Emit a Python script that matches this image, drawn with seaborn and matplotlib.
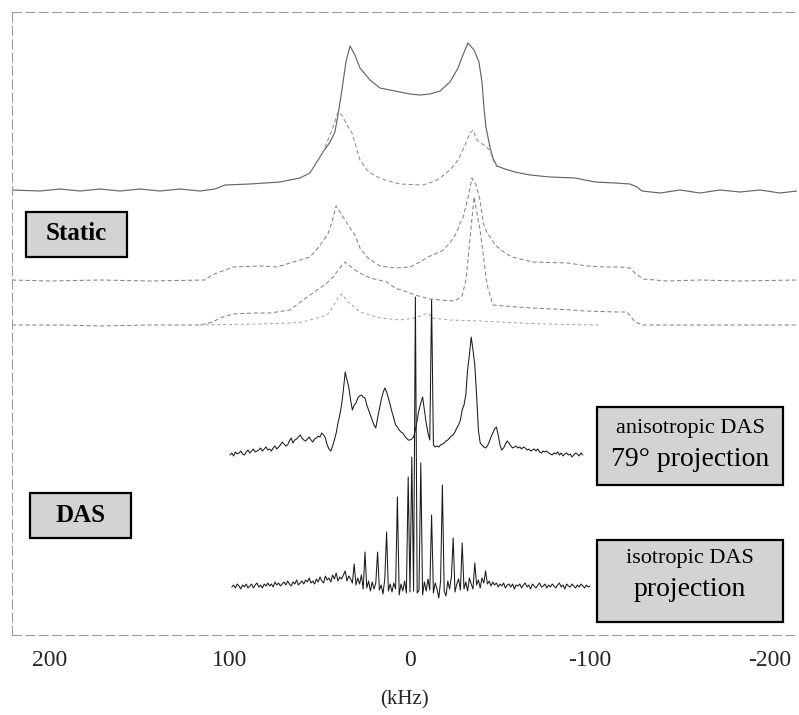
import numpy as np
import pandas as pd
import matplotlib
matplotlib.use("Agg")
import matplotlib.pyplot as plt
import seaborn as sns
from matplotlib.patches import Rectangle

# ---------------- data (frequency in kHz, intensity in arbitrary units) ----------------
# Static spectrum 1 (top trace)
static1_khz = [221.1, 205.6, 194.4, 183.3, 172.2, 161.1, 150, 138.9, 127.8, 116.7, 108.3, 102.8,
               88.9, 80.6, 72.2, 66.7, 61.1, 55.6, 52.8, 48.3, 44.4, 41.7, 40, 37.8, 35.6, 33.3,
               30.6, 27.8, 22.2, 16.7, 11.1, 5.6, 0, -5.6, -11.1, -16.7, -22.2, -26.7, -29.4, -32.2,
               -35.6, -38.3, -40, -41.1, -42.2, -44.4, -46.1, -48.3, -52.8, -58.3, -66.7, -77.8,
               -91.7, -102.8, -113.9, -122.2, -126.1, -128.9, -138.9, -150, -161.1, -172.2, -183.3,
               -194.4, -205.6, -215]
static1_int = [0, -1, 1, -1, 1, -1, 1, -1, 1, -1, 1, 5,
               6, 7, 8, 10, 12, 17, 25, 38, 48, 58, 75, 100, 128, 144,
               135, 122, 110, 102, 100, 98, 96, 95, 96, 99, 108, 122, 135, 147,
               140, 128, 108, 82, 63, 43, 32, 24, 21, 18, 15, 13,
               12, 8, 7, 6, 3, -1, -3, 0, -3, 0, -2,
               0, -3, -1]

# Static spectrum 1b (inner trace overlaid on the top one)
static1b_khz = [61.1, 55.6, 48.3, 43.3, 40, 37.8, 35, 32.2, 27.8, 23.9, 19.4, 13.9, 5.6, -7.2,
                -13.9, -16.7, -22.2, -26.7, -30.6, -33.3, -35, -37.2, -41.7, -44.4, -46.1, -48.3]
static1b_int = [12, 17, 38, 60, 78, 75, 65, 57, 30, 20, 14, 10, 6, 5,
                9, 12, 20, 30, 45, 57, 60, 50, 44, 40, 30, 23]

# Static spectrum 2
static2_khz = [221.1, 200, 172.2, 144.4, 113.9, 110, 105.6, 98.3, 83.3, 73.9, 61.1, 55.6, 51.1,
               47.2, 45.6, 43.3, 41.1, 37.8, 34.4, 30.6, 27.8, 23.3, 16.7, 8.3, 0, -5.6, -10, -15,
               -17.8, -21.1, -23.3, -26.1, -27.8, -29.4, -32.2, -34.4, -36.7, -38.9, -40.6, -42.8,
               -45, -47.2, -52.8, -56.7, -68.3, -87.8, -98.3, -108.3, -116.7, -122.2, -125, -129.4,
               -142.8, -161.1, -183.3, -215]
static2_int = [0, -1, 0, -1, 0, 5, 8, 13, 14, 13, 20, 23, 32,
               42, 46, 58, 74, 65, 55, 45, 32, 22, 14, 12, 13, 18, 23, 27,
               29, 35, 40, 48, 57, 62, 82, 102, 95, 80, 58, 47,
               42, 35, 27, 23, 18, 17, 14, 13, 13, 12, 7, 1,
               -1, 0, -1, 0]

# Static spectrum 3
static3_khz = [221.1, 194.4, 172.2, 144.4, 116.7, 109.4, 105.6, 98.3, 87.2, 77.8, 66.7, 59.4,
               53.9, 46.1, 42.8, 38.9, 36.1, 33.3, 28.9, 22.2, 12.8, 8.3, 0, -2.8, -11.1, -16.7,
               -25, -28.9, -31.1, -33.3, -35.6, -37.2, -38.9, -40.6, -42.2, -43.3, -46.1, -59.4,
               -68.3, -79.4, -90.6, -97.2, -115, -120.6, -125, -129.4, -161.1, -215]
static3_int = [0, 0, -1, 0, 0, 3, 7, 11, 12, 12, 15, 25,
               32, 42, 48, 57, 63, 59, 53, 47, 43, 37, 32, 30, 26, 25,
               24, 29, 45, 85, 128, 112, 95, 72, 48, 37, 20, 18,
               17, 16, 15, 14, 13, 13, 3, 0, 0, 0]

# Static spectrum 3b (lower overlaid trace)
static3b_khz = [116.7, 83.3, 66.7, 59.4, 51.7, 46.1, 42.8, 40, 37.8, 34.4, 27.8, 16.7, 5.6,
                -2.8, -10, -12.2, -22.2, -38.9, -50, -61.1, -75, -105.6]
static3b_int = [0, 1, 2, 3, 7, 10, 18, 27, 31, 23, 13, 7, 5,
                7, 12, 7, 5, 4, 3, 2, 1, 0]

# anisotropic DAS 79 deg projection, sampled every 1 kHz from +100 to -96 kHz
aniso_khz = np.arange(100, -97, -1)
aniso_int = [0, 2, -1, 3, 1, 2, 4, 1, 0, 3,
             5, 2, 4, 6, 3, 4, 5, 7, 4, 6,
             8, 5, 6, 4, 7, 9, 6, 8, 10, 13,
             11, 9, 10, 14, 17, 12, 15, 16, 18, 20,
             17, 15, 14, 16, 18, 15, 13, 16, 17, 19,
             18, 22, 20, 17, 10, 6, 4, 9, 15, 22,
             32, 40, 50, 65, 83, 75, 68, 55, 45, 50,
             52, 57, 59, 60, 58, 57, 50, 45, 40, 35,
             30, 27, 37, 46, 55, 62, 67, 63, 57, 50,
             43, 37, 30, 28, 25, 23, 22, 19, 17, 15,
             15, 16, 18, 25, 35, 45, 52, 58, 45, 32,
             22, 15, 155, 10, 8, 9, 8, 10, 11, 12,
             14, 15, 17, 19, 20, 23, 27, 30, 35, 45,
             50, 60, 85, 100, 118, 105, 90, 60, 25, 12,
             10, 8, 7, 9, 13, 18, 22, 26, 28, 20,
             10, 5, 7, 11, 14, 12, 9, 7, 8, 9,
             7, 8, 6, 8, 7, 5, 6, 4, 5, 6,
             4, 6, 3, 2, 4, 3, 4, 2, 1, 0,
             2, 1, 3, 0, 2, -1, 1, 2, 0, 1,
             -2, 0, 2, 1, -1, 2, 0]

# isotropic DAS projection, sampled every 1 kHz from +99 to -100 kHz
iso_khz = np.arange(99, -101, -1)
iso_int = [0, 2, -1, 3, 1, -2, 2, 0, 3, -1,
           1, 3, -1, 2, 4, 0, 2, -1, 3, 1,
           4, 1, 3, 0, 5, 2, 4, 1, 3, 5,
           2, 6, 3, 1, 5, 3, 7, 2, 4, 6,
           3, 7, 5, 9, 4, 6, 3, 8, 5, 10,
           6, 4, 11, 7, 9, 5, 12, 8, 14, 6,
           10, 8, 12, 16, 6, 11, 8, 4, 23, 2,
           9, 3, 12, -2, 35, -1, 6, -4, 5, -2,
           4, 35, -3, 2, -7, 8, 55, -4, 3, -5,
           4, -2, 90, -8, 3, -4, 6, -6, 110, -5,
           130, -4, 290, -6, -3, 124, -8, 5, -4, 8,
           -3, 72, -6, 4, -2, -11, 6, 102, -4, -9,
           6, -2, 10, 49, -5, 3, 8, -3, 44, -2,
           5, -4, 9, 3, -2, 24, 2, 7, -1, 9,
           4, 16, 3, 6, 1, 5, 2, 4, 0, 3,
           1, 4, -1, 2, 3, 0, 3, -2, 2, 1,
           3, -1, 2, 4, 0, 2, -2, 3, 1, -1,
           2, 4, 0, 1, 3, -1, 2, 0, 3, 1,
           -1, 2, 4, 0, 2, -2, 3, 1, 0, 3,
           1, -1, 2, 0, 3, 1, -1, 2, 0, 1]

# vertical stacking offsets of the traces
offsets = {"static1": 445, "static1b": 445, "static2": 355, "static3": 310,
           "static3b": 310, "aniso": 180, "iso": 48}

tick_vals = [200, 100, 0, -100, -200]
tick_labels = ["200", "100", "0", "-100", "-200"]

# ---------------- build a long table ----------------
series = {
    "static1": (static1_khz, static1_int),
    "static1b": (static1b_khz, static1b_int),
    "static2": (static2_khz, static2_int),
    "static3": (static3_khz, static3_int),
    "static3b": (static3b_khz, static3b_int),
    "aniso": (aniso_khz, aniso_int),
    "iso": (iso_khz, iso_int),
}
frames = []
for name, (xs, ys) in series.items():
    frames.append(pd.DataFrame({"khz": np.asarray(xs, float),
                                "y": np.array(ys, float) + offsets[name],
                                "trace": name}))
df = pd.concat(frames, ignore_index=True)

# ---------------- figure ----------------
sns.set_theme(style="white")
plt.rcParams["font.family"] = ["Liberation Serif", "DejaVu Serif"]

fig = plt.figure(figsize=(7.99, 7.15), dpi=100)
ax = fig.add_axes([12 / 799, 80 / 715, 785 / 799, 623 / 715])

styles = {
    "static1": dict(color="#666666", lw=0.85, ls="-"),
    "static1b": dict(color="#8f8f8f", lw=0.75, ls=(0, (4, 2.5))),
    "static2": dict(color="#858585", lw=0.75, ls=(0, (4, 2.5))),
    "static3": dict(color="#858585", lw=0.75, ls=(0, (4, 2.5))),
    "static3b": dict(color="#a0a0a0", lw=0.7, ls=(0, (3, 3))),
    "aniso": dict(color="#1a1a1a", lw=0.75, ls="-"),
    "iso": dict(color="#1a1a1a", lw=0.75, ls="-"),
}
for name in series:
    st = styles[name]
    sns.lineplot(data=df[df.trace == name], x="khz", y="y", sort=False, estimator=None,
                 ax=ax, color=st["color"], linewidth=st["lw"], linestyle=st["ls"])

ax.set_xlim(221.1, -215)
ax.set_ylim(0, 623)
ax.set_xticks(tick_vals)
ax.set_xticklabels(tick_labels, fontsize=17)
ax.set_yticks([])
ax.tick_params(axis="x", length=0, pad=11)
ax.set_xlabel("(kHz)", fontsize=15, labelpad=14)
ax.set_ylabel("")

for side in ["top", "left", "bottom"]:
    ax.spines[side].set_visible(True)
    ax.spines[side].set_color("#9a9a9a")
    ax.spines[side].set_linewidth(0.8)
    ax.spines[side].set_linestyle((0, (8, 4)))
ax.spines["right"].set_visible(False)


def fx(px):
    return (px - 12) / 785


def fy(py):
    return (635 - py) / 623


def label_box(x0, y0, x1, y1, lines):
    # box given in axes fraction
    ax.add_patch(Rectangle((x0, y0), x1 - x0, y1 - y0, transform=ax.transAxes,
                           facecolor="#d3d3d3", edgecolor="black", linewidth=1.6, zorder=5))
    for (ty, txt, fs, fw) in lines:
        ax.text((x0 + x1) / 2, ty, txt, transform=ax.transAxes, ha="center", va="center",
                fontsize=fs, fontweight=fw, color="black", zorder=6)


label_box(fx(26), fy(257), fx(127), fy(212), [(fy(234), "Static", 18, "bold")])
label_box(fx(30), fy(538), fx(131), fy(493), [(fy(515), "DAS", 18, "bold")])
label_box(fx(597), fy(485), fx(783), fy(407),
          [(fy(428), "anisotropic DAS", 16, "normal"), (fy(460), "79° projection", 20, "normal")])
label_box(fx(597), fy(622), fx(783), fy(540),
          [(fy(558), "isotropic DAS", 16, "normal"), (fy(590), "projection", 20, "normal")])

fig.savefig("out.png", dpi=100)
